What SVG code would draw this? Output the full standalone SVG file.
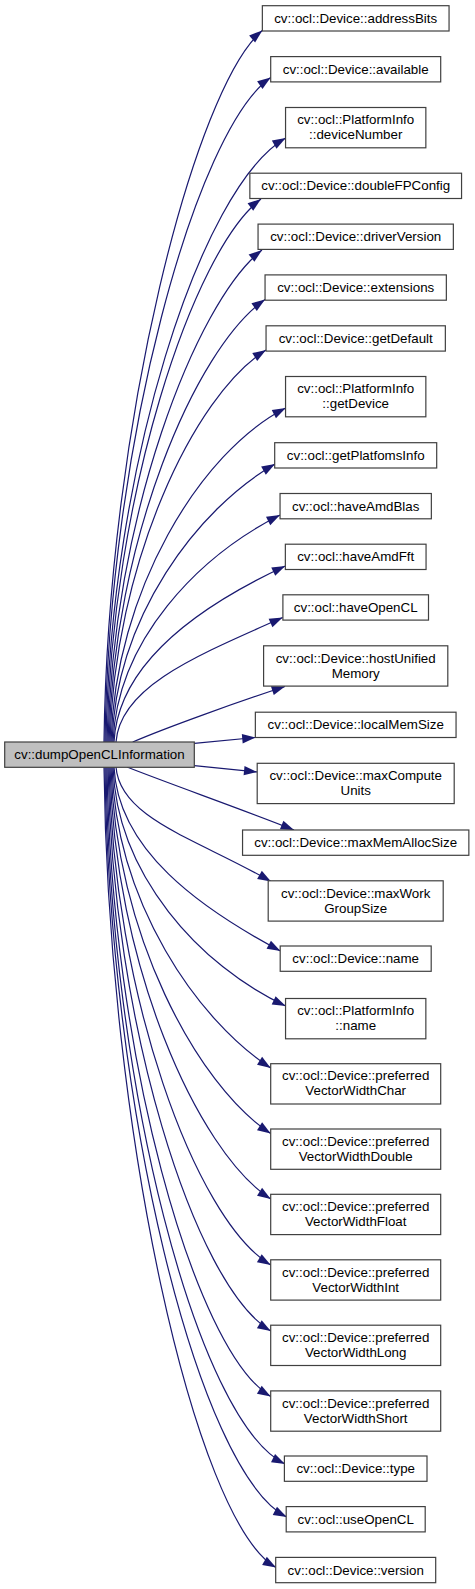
<svg xmlns="http://www.w3.org/2000/svg" width="475" height="1589" viewBox="0 0 475 1589">
<style>
.n rect{fill:#ffffff;stroke:#404040;stroke-width:1.2}
.n.src rect{fill:#bfbfbf}
.n text{font-family:"Liberation Sans",Arial,Helvetica,sans-serif;font-size:13.33px;fill:#000000;text-anchor:middle}
#edges path{fill:none;stroke:#191970;stroke-width:1.2;marker-end:url(#arr)}
</style>
<defs>
<marker id="arr" markerUnits="userSpaceOnUse" markerWidth="14" markerHeight="10" viewBox="0 0 14 10" refX="13.3" refY="4.67" orient="auto" overflow="visible">
<path d="M0,0 L13.3,4.67 L0,9.33 z" fill="#191970"/>
</marker>
</defs>
<rect width="475" height="1589" fill="#ffffff"/>
<g id="edges">
<path d="M104,742 C108,421.8 195.6,86.4 262.3,30.5"/>
<path d="M105,742 C109,443 196.1,129.8 270.7,77.5"/>
<path d="M106,742 C110,470.2 200.1,187.4 285.7,138"/>
<path d="M107,742 C111,497.6 193.3,250 261,199"/>
<path d="M108,742 C112,520.6 195.3,302.2 262,250"/>
<path d="M109,742 C113,542.9 194.7,348.7 265,299.5"/>
<path d="M110,742 C114,565.6 193.2,395.5 266,350"/>
<path d="M111,742 C115,591.7 200.1,451.6 285.7,408"/>
<path d="M112,742 C116,616.9 197.3,508.8 275,464"/>
<path d="M113,742 C117,639.8 198.1,556.7 280,515"/>
<path d="M114,742 C118,662.8 200,605.8 285.3,566"/>
<path d="M116,742 C120,686 198.9,654.8 282.7,617.5"/>
<path d="M132.7,742 C165,728 237.4,702 285,686.5"/>
<path d="M194.3,743.3 L255.5,737.5"/>
<path d="M194.3,765.7 L257.3,772"/>
<path d="M127,767 C170,784 247.6,811.3 294,830"/>
<path d="M116,767 C120,818.5 197.1,838.9 271,881.5"/>
<path d="M114,767 C118,849.8 199.6,908 280.5,951"/>
<path d="M113,767 C117,874.6 199.6,965.8 285.7,1006"/>
<path d="M112,767 C116,902.5 197.5,1020.4 270.7,1068"/>
<path d="M111,767 C115,931.9 197,1085.6 270.7,1133.5"/>
<path d="M110,767 C114,961.4 196.5,1150.8 270.7,1199"/>
<path d="M109,767 C113,991.1 194.5,1219.2 270.7,1265"/>
<path d="M108,767 C112,1020.8 194,1284.9 270.7,1331"/>
<path d="M107,767 C111,1050.3 193.6,1350.1 270.7,1396.5"/>
<path d="M106,767 C110,1080.7 196.5,1420.9 285,1464"/>
<path d="M105,767 C109,1104.5 197.7,1471.6 286.7,1517"/>
<path d="M104,767 C108,1127.2 194.1,1520.2 276,1567.5"/>
</g>
<g id="node-src" class="n src"><rect x="4.7" y="742" width="189.6" height="25.3"/><text x="99.5" y="759.25">cv::dumpOpenCLInformation</text></g>
<g id="node1" class="n"><rect x="262.35" y="5.7" width="186.7" height="25.3"/><text x="355.7" y="22.95">cv::ocl::Device::addressBits</text></g>
<g id="node2" class="n"><rect x="270.7" y="56.6" width="170" height="25.3"/><text x="355.7" y="73.85">cv::ocl::Device::available</text></g>
<g id="node3" class="n"><rect x="285.55" y="107.5" width="140.3" height="40.3"/><text x="355.7" y="124.25">cv::ocl::PlatformInfo</text><text x="355.7" y="139.25">::deviceNumber</text></g>
<g id="node4" class="n"><rect x="249.85" y="173.2" width="211.7" height="25.3"/><text x="355.7" y="190.45">cv::ocl::Device::doubleFPConfig</text></g>
<g id="node5" class="n"><rect x="258.05" y="224.1" width="195.3" height="25.3"/><text x="355.7" y="241.35">cv::ocl::Device::driverVersion</text></g>
<g id="node6" class="n"><rect x="265.05" y="274.9" width="181.3" height="25.3"/><text x="355.7" y="292.15">cv::ocl::Device::extensions</text></g>
<g id="node7" class="n"><rect x="266.05" y="325.8" width="179.3" height="25.3"/><text x="355.7" y="343.05">cv::ocl::Device::getDefault</text></g>
<g id="node8" class="n"><rect x="285.55" y="376.5" width="140.3" height="40.3"/><text x="355.7" y="393.25">cv::ocl::PlatformInfo</text><text x="355.7" y="408.25">::getDevice</text></g>
<g id="node9" class="n"><rect x="274.7" y="442.7" width="162" height="25.3"/><text x="355.7" y="459.95">cv::ocl::getPlatfomsInfo</text></g>
<g id="node10" class="n"><rect x="280.05" y="493.5" width="151.3" height="25.3"/><text x="355.7" y="510.75">cv::ocl::haveAmdBlas</text></g>
<g id="node11" class="n"><rect x="285.35" y="544.2" width="140.7" height="25.3"/><text x="355.7" y="561.45">cv::ocl::haveAmdFft</text></g>
<g id="node12" class="n"><rect x="282.9" y="594.8" width="145.6" height="25.3"/><text x="355.7" y="612.05">cv::ocl::haveOpenCL</text></g>
<g id="node13" class="n"><rect x="263.6" y="645.8" width="184.2" height="40.3"/><text x="355.7" y="662.55">cv::ocl::Device::hostUnified</text><text x="355.7" y="677.55">Memory</text></g>
<g id="node14" class="n"><rect x="255.35" y="712.2" width="200.7" height="25.3"/><text x="355.7" y="729.45">cv::ocl::Device::localMemSize</text></g>
<g id="node15" class="n"><rect x="257.2" y="763.3" width="197" height="40.3"/><text x="355.7" y="780.05">cv::ocl::Device::maxCompute</text><text x="355.7" y="795.05">Units</text></g>
<g id="node16" class="n"><rect x="242.55" y="830" width="226.3" height="25.3"/><text x="355.7" y="847.25">cv::ocl::Device::maxMemAllocSize</text></g>
<g id="node17" class="n"><rect x="268.2" y="880.8" width="175" height="40.3"/><text x="355.7" y="897.55">cv::ocl::Device::maxWork</text><text x="355.7" y="912.55">GroupSize</text></g>
<g id="node18" class="n"><rect x="280.2" y="946" width="151" height="25.3"/><text x="355.7" y="963.25">cv::ocl::Device::name</text></g>
<g id="node19" class="n"><rect x="285.55" y="998.5" width="140.3" height="40.3"/><text x="355.7" y="1015.25">cv::ocl::PlatformInfo</text><text x="355.7" y="1030.25">::name</text></g>
<g id="node20" class="n"><rect x="270.7" y="1063.7" width="170" height="40.3"/><text x="355.7" y="1080.45">cv::ocl::Device::preferred</text><text x="355.7" y="1095.45">VectorWidthChar</text></g>
<g id="node21" class="n"><rect x="270.7" y="1129" width="170" height="40.3"/><text x="355.7" y="1145.75">cv::ocl::Device::preferred</text><text x="355.7" y="1160.75">VectorWidthDouble</text></g>
<g id="node22" class="n"><rect x="270.7" y="1194.3" width="170" height="40.3"/><text x="355.7" y="1211.05">cv::ocl::Device::preferred</text><text x="355.7" y="1226.05">VectorWidthFloat</text></g>
<g id="node23" class="n"><rect x="270.7" y="1259.8" width="170" height="40.3"/><text x="355.7" y="1276.55">cv::ocl::Device::preferred</text><text x="355.7" y="1291.55">VectorWidthInt</text></g>
<g id="node24" class="n"><rect x="270.7" y="1325.2" width="170" height="40.3"/><text x="355.7" y="1341.95">cv::ocl::Device::preferred</text><text x="355.7" y="1356.95">VectorWidthLong</text></g>
<g id="node25" class="n"><rect x="270.7" y="1390.9" width="170" height="40.3"/><text x="355.7" y="1407.65">cv::ocl::Device::preferred</text><text x="355.7" y="1422.65">VectorWidthShort</text></g>
<g id="node26" class="n"><rect x="284.4" y="1456" width="142.6" height="25.3"/><text x="355.7" y="1473.25">cv::ocl::Device::type</text></g>
<g id="node27" class="n"><rect x="286.2" y="1506.6" width="139" height="25.3"/><text x="355.7" y="1523.85">cv::ocl::useOpenCL</text></g>
<g id="node28" class="n"><rect x="275.7" y="1557.4" width="160" height="25.3"/><text x="355.7" y="1574.65">cv::ocl::Device::version</text></g>
</svg>
